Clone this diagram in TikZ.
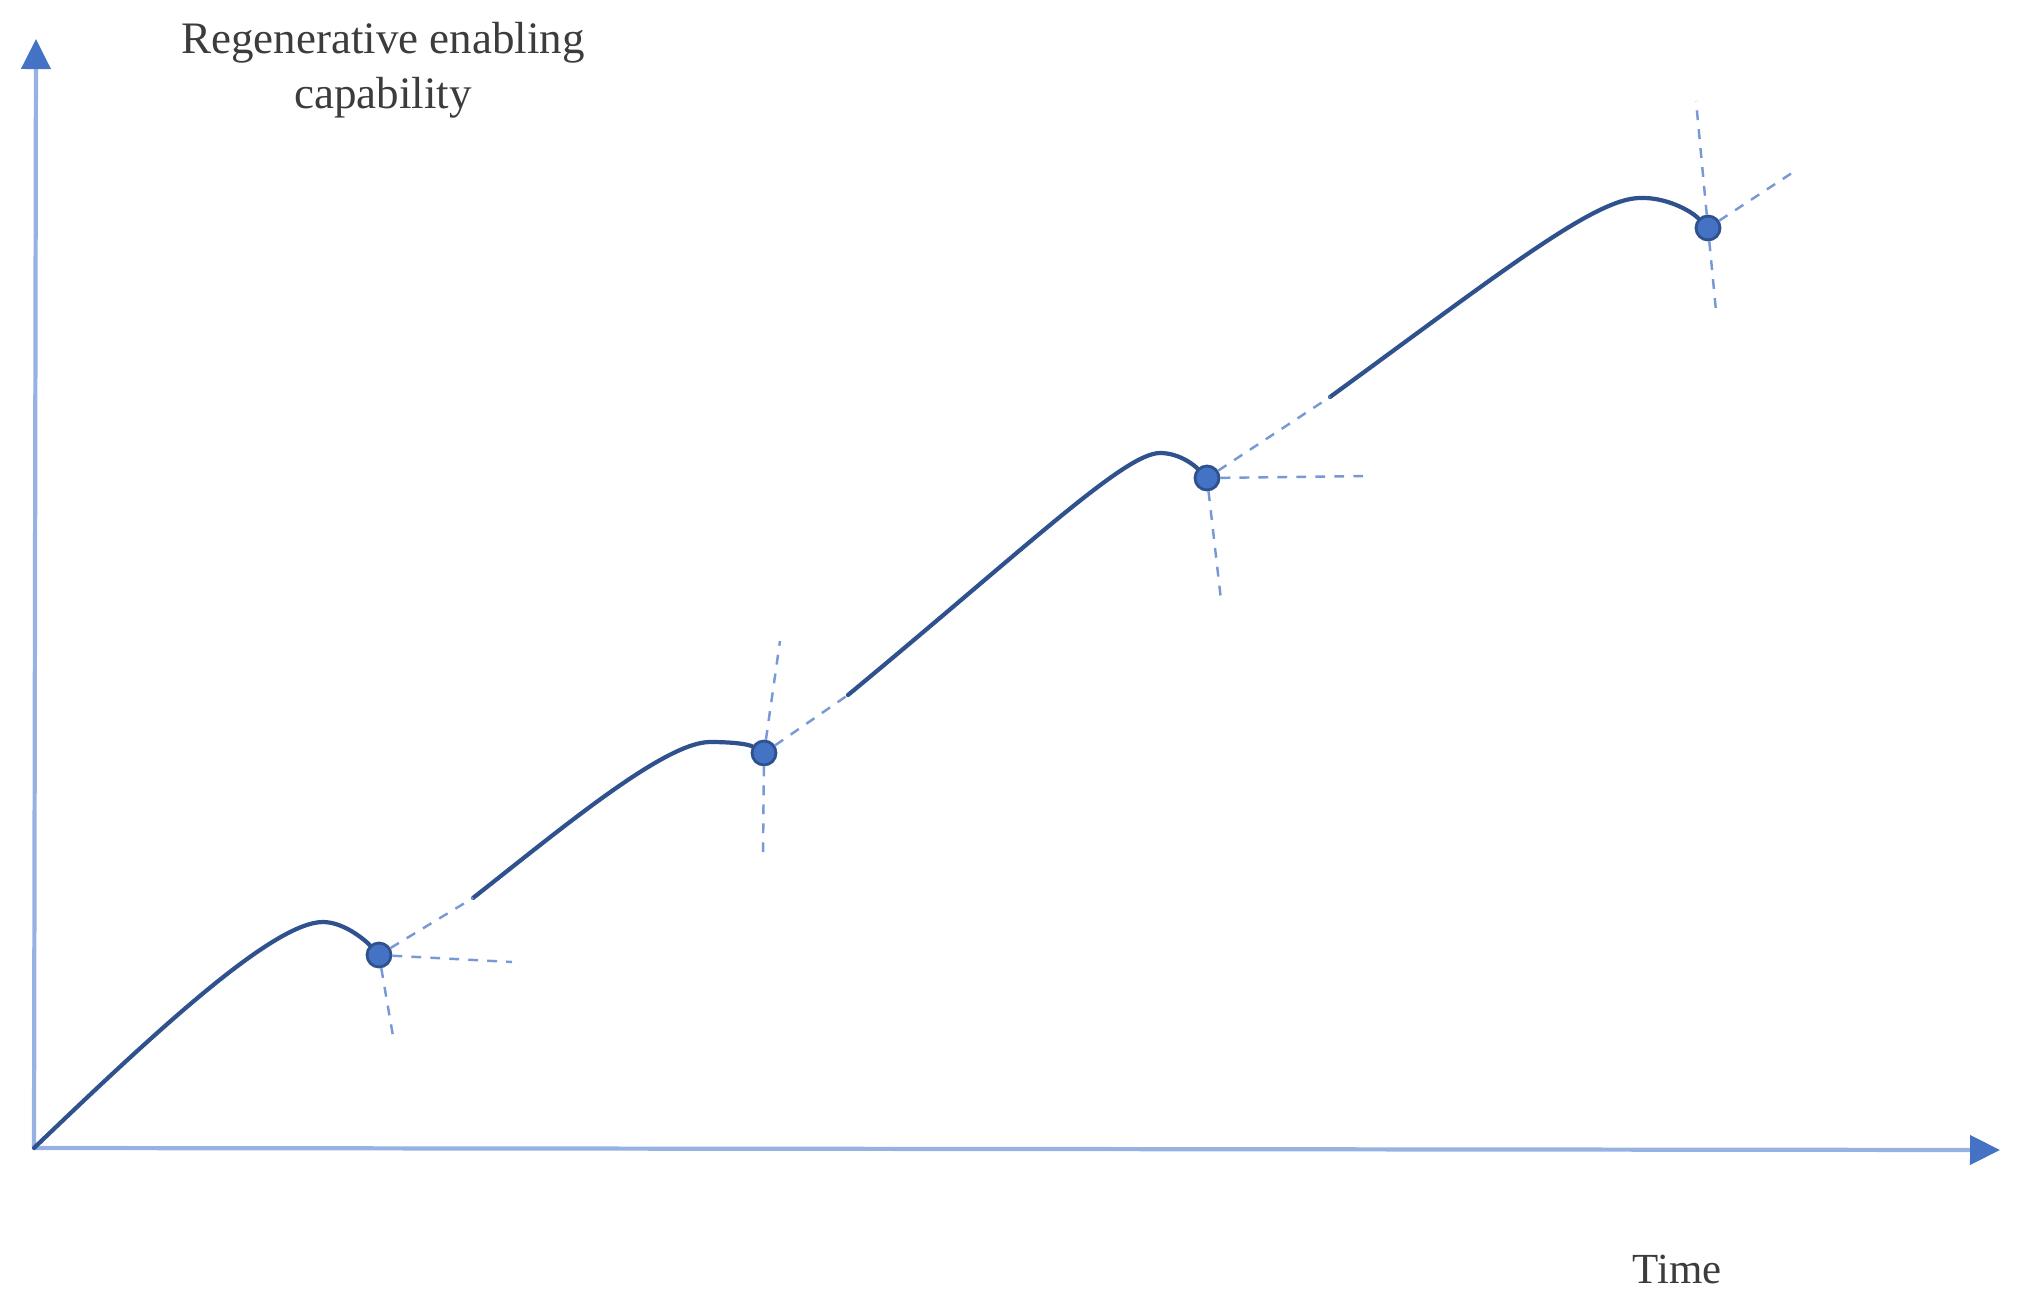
\documentclass[tikz,border=0pt]{standalone}
\usepackage{fontspec}
\setmainfont{Liberation Serif}
\usetikzlibrary{arrows.meta}
\definecolor{curveblue}{RGB}{47,82,143}
\definecolor{dotblue}{RGB}{68,114,196}
\definecolor{axisblue}{RGB}{150,178,226}
\definecolor{tipblue}{RGB}{68,114,196}
\definecolor{dashblue}{RGB}{120,152,214}
\definecolor{textgray}{RGB}{60,60,60}
\begin{document}
\begin{tikzpicture}[x=0.01cm,y=-0.01cm,
  axisline/.style={draw=axisblue,line width=1.2pt,-{Triangle[length=0.3cm,width=0.29cm,color=tipblue]}},
  curveline/.style={draw=curveblue,line width=1.2pt,line cap=round},
  guide/.style={draw=dashblue,line width=0.7pt,dash pattern=on 2.8pt off 2.6pt},
  dotnode/.style={circle,fill=dotblue,draw=curveblue,line width=0.8pt,minimum size=0.24cm,inner sep=0pt},
  lbl/.style={text=textgray,inner sep=0pt}]
\useasboundingbox (0,0) rectangle (2024,1306);
% axes
\coordinate (o) at (34,1148);
\coordinate (ytop) at (36,39);
\coordinate (xend) at (2000,1150);
\draw[axisline] (o) -- (ytop);
\draw[axisline] (o) -- (xend);
% labels
\node[lbl,align=center,font=\fontsize{12.8}{15.4}\selectfont,anchor=north] (ylab) at (383,22) {Regenerative enabling\\capability};
\node[lbl,font=\fontsize{12.2}{14}\selectfont,anchor=base] (xlab) at (1677,1283) {Time};
% dots
\node[dotnode] (d1) at (379,955) {};
\node[dotnode] (d2) at (764,753) {};
\node[dotnode] (d3) at (1207,478) {};
\node[dotnode] (d4) at (1708,228) {};
% curve segments
\coordinate (p1) at (323,922);
\coordinate (s2) at (473,898);
\coordinate (p2) at (710,742);
\coordinate (s3) at (848,695);
\coordinate (p3) at (1160,453);
\coordinate (s4) at (1330,397);
\coordinate (p4) at (1640,198);
\draw[curveline] (o) .. controls (153,1034) and (273,922) .. (p1)
  .. controls (343,922) and (364,939) .. (d1);
\draw[curveline] (s2) .. controls (562,828) and (665,742) .. (p2)
  .. controls (732,742) and (748,744) .. (d2);
\draw[curveline] (s3) .. controls (1028,546) and (1125,453) .. (p3)
  .. controls (1180,453) and (1195,466) .. (d3);
\draw[curveline] (s4) .. controls (1500,273) and (1595,198) .. (p4)
  .. controls (1665,197) and (1690,210) .. (d4);
% guide lines
\coordinate (g1a) at (512,962);
\coordinate (g1b) at (393,1036);
\coordinate (g2a) at (780,641);
\coordinate (g2b) at (763,855);
\coordinate (g3a) at (1367,476);
\coordinate (g3b) at (1221,600);
\coordinate (g4a) at (1696,101);
\coordinate (g4b) at (1716,311);
\coordinate (g4c) at (1798,169);
\draw[guide] (d1) -- (g1a);
\draw[guide] (d1) -- (g1b);
\draw[guide] (d1) -- (s2);
\draw[guide] (d2) -- (g2a);
\draw[guide] (d2) -- (g2b);
\draw[guide] (d2) -- (s3);
\draw[guide] (d3) -- (g3a);
\draw[guide] (d3) -- (g3b);
\draw[guide] (d3) -- (s4);
\draw[guide] (d4) -- (g4a);
\draw[guide] (d4) -- (g4b);
\draw[guide] (d4) -- (g4c);
\end{tikzpicture}
\end{document}
